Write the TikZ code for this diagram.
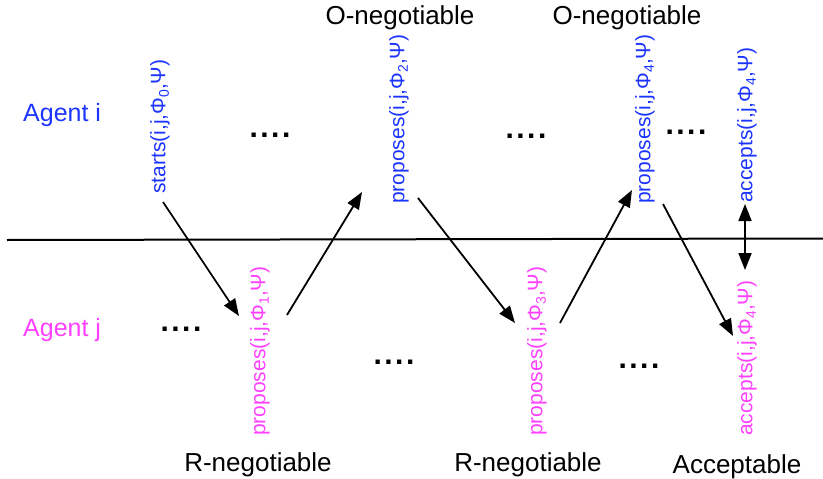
\documentclass[tikz,border=0pt]{standalone}
\usepackage{fontspec}
\setmainfont{Liberation Sans}
\usetikzlibrary{arrows.meta}
\definecolor{agi}{RGB}{28,52,255}
\definecolor{agj}{RGB}{255,64,255}
\newcommand{\sbx}[1]{{\fontsize{14}{14}\selectfont\raisebox{-3.5pt}{#1}}}
\newcommand{\fourdots}{.\kern2.5pt.\kern2.5pt.\kern2.5pt.}
\tikzset{
  x=1pt, y=-1pt,
  act/.style={rotate=90, anchor=west, inner sep=0pt, font=\fontsize{21}{21}\selectfont},
  acti/.style={act, text=agi},
  actj/.style={act, text=agj},
  state/.style={inner sep=0pt, font=\fontsize{26}{26}\selectfont},
  agent/.style={inner sep=0pt, anchor=west, font=\fontsize{25}{25}\selectfont},
  gap/.style={inner sep=0pt, font=\fontsize{30}{30}\selectfont\bfseries},
  msg/.style={line width=1.8pt, -{Triangle[length=17pt,width=13pt]}},
  both/.style={line width=1.8pt, {Triangle[length=17pt,width=13pt]}-{Triangle[length=17pt,width=13pt]}}
}
\begin{document}
\begin{tikzpicture}
\useasboundingbox (0,0) rectangle (823,479);

% boundary between the two agents
\coordinate (ll) at (7,240);
\coordinate (lr) at (823,238.5);
\draw[line width=2pt] (ll) -- (lr);

% agent names
\node[agent, text=agi] (ai) at (23,115) {Agent i};
\node[agent, text=agj] (aj) at (23,330) {Agent j};

% actions of agent i
\node[acti] (s0) at (160,194) {starts(i,j,Φ\sbx{0},Ψ)};
\node[acti] (p2) at (399,204) {proposes(i,j,Φ\sbx{2},Ψ)};
\node[acti] (p4) at (645,204) {proposes(i,j,Φ\sbx{4},Ψ)};
\node[acti] (ai4) at (747,203) {accepts(i,j,Φ\sbx{4},Ψ)};

% actions of agent j
\node[actj] (p1) at (260,436) {proposes(i,j,Φ\sbx{1},Ψ)};
\node[actj] (p3) at (537,436) {proposes(i,j,Φ\sbx{3},Ψ)};
\node[actj] (aj4) at (747,436) {accepts(i,j,Φ\sbx{4},Ψ)};

% states
\node[state] (on1) at (400,18) {O-negotiable};
\node[state] (on2) at (627,18) {O-negotiable};
\node[state] (rn1) at (258,465) {R-negotiable};
\node[state] (rn2) at (528,465) {R-negotiable};
\node[state] (acc) at (737,467) {Acceptable};

% elided steps
\node[gap] (g1) at (270,135) {\fourdots};
\node[gap] (g2) at (526,136) {\fourdots};
\node[gap] (g3) at (686,132) {\fourdots};
\node[gap] (g4) at (181,329) {\fourdots};
\node[gap] (g5) at (394,362) {\fourdots};
\node[gap] (g6) at (639,366) {\fourdots};

% message flow
\coordinate (m1a) at (163,202); \coordinate (m1b) at (239,316);
\coordinate (m2a) at (287,315); \coordinate (m2b) at (362,192);
\coordinate (m3a) at (418,198); \coordinate (m3b) at (515,323);
\coordinate (m4a) at (560,323); \coordinate (m4b) at (632,190);
\coordinate (m5a) at (663,204); \coordinate (m5b) at (733,336);
\coordinate (m6a) at (745,204); \coordinate (m6b) at (745,270);
\draw[msg] (m1a) -- (m1b);
\draw[msg] (m2a) -- (m2b);
\draw[msg] (m3a) -- (m3b);
\draw[msg] (m4a) -- (m4b);
\draw[msg] (m5a) -- (m5b);
\draw[both] (m6a) -- (m6b);
\end{tikzpicture}
\end{document}
